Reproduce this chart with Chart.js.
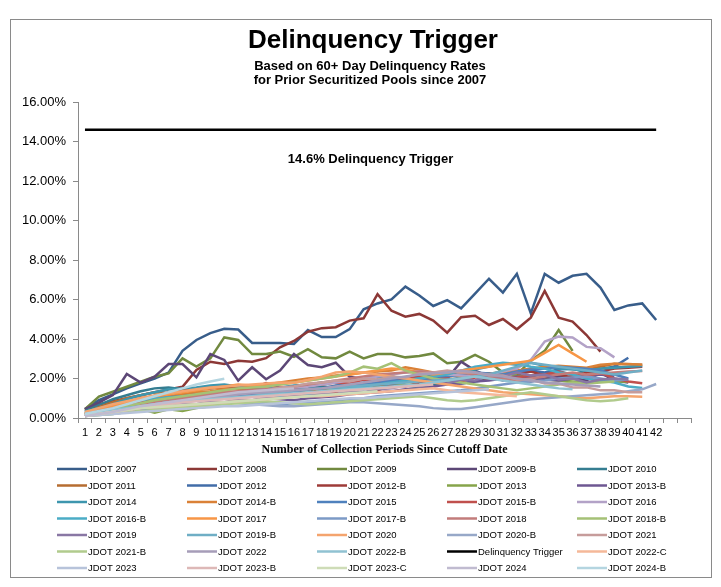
<!DOCTYPE html>
<html>
<head>
<meta charset="utf-8">
<script src="https://cdn.jsdelivr.net/npm/chart.js@4.4.1/dist/chart.umd.min.js"></script>
<style>
  body { margin: 0; background: #fff; }
  #wrap { width: 721px; height: 587px; }
</style>
</head>
<body>
<div id="wrap"><canvas id="delinquencyChart" width="721" height="587"></canvas></div>
<script>
// x axis: collection periods (last two slots are empty on the original axis)
const periods = ['1','2','3','4','5','6','7','8','9','10','11','12','13','14','15','16','17','18','19','20',
  '21','22','23','24','25','26','27','28','29','30','31','32','33','34','35','36','37','38','39','40','41','42','',''];

const yTicks = [0, 2, 4, 6, 8, 10, 12, 14, 16];

// 60+ day delinquency rates (%)
const jdot2007 = [0.45, 0.9, 1.2, 1.5, 1.75, 2.0, 2.3, 3.4, 3.95, 4.3, 4.52, 4.48, 3.8, 3.8, 3.8, 3.75, 4.45, 4.1, 4.1, 4.5, 5.5, 5.8, 6.0, 6.65, 6.2, 5.67, 5.97, 5.55, 6.3, 7.05, 6.35, 7.3, 5.3, 7.3, 6.85, 7.2, 7.3, 6.6, 5.47, 5.7, 5.8, 4.96];
const jdot2008 = [0.4, 0.7, 0.85, 1.0, 1.15, 1.3, 1.45, 1.58, 2.43, 2.85, 2.73, 2.9, 2.85, 3.03, 3.58, 3.9, 4.37, 4.55, 4.6, 4.93, 5.05, 6.27, 5.43, 5.13, 5.27, 4.93, 4.32, 5.1, 5.18, 4.71, 5.01, 4.49, 5.08, 6.43, 5.08, 4.88, 4.2, 3.36];
const jdot2009 = [0.45, 1.08, 1.33, 1.58, 1.84, 2.09, 2.26, 3.02, 2.6, 3.02, 4.08, 3.95, 3.24, 3.24, 3.36, 3.1, 3.49, 3.07, 3.02, 3.36, 3.02, 3.24, 3.24, 3.07, 3.14, 3.27, 2.77, 2.85, 3.19, 2.85, 2.3, 2.2, 2.9, 3.4, 4.45, 3.4];
const jdot2009B = [0.45, 0.78, 1.16, 2.23, 1.79, 2.09, 2.73, 2.73, 2.06, 3.24, 2.94, 1.89, 2.57, 1.96, 2.4, 3.24, 2.68, 2.57, 2.8, 2.09, 1.96, 2.23, 2.13, 1.89, 2.0, 1.95, 2.0, 2.85, 2.4, 2.1, 1.9, 1.95, 1.85, 2.0, 2.1, 2.0, 1.9, 2.3, 1.9, 1.8];
const jdot2010 = [0.35, 0.65, 0.95, 1.15, 1.35, 1.5, 1.55, 1.45, 1.4, 1.5, 1.55, 1.6, 1.5, 1.4, 1.35, 1.45, 1.5, 1.6, 1.55, 1.5, 1.45, 1.6, 1.7, 1.65, 1.55, 1.7, 1.8, 1.75, 1.85, 1.95, 2.05, 1.95, 2.1, 2.25, 2.35, 2.2, 2.4, 2.5, 2.6, 2.55];
const jdot2011 = [0.25, 0.55, 0.8, 1.0, 1.15, 1.3, 1.25, 1.4, 1.5, 1.6, 1.5, 1.45, 1.35, 1.3, 1.2, 1.3, 1.4, 1.45, 1.55, 1.6, 1.7, 1.65, 1.8, 1.9, 2.0, 2.1, 2.0, 1.95, 2.15, 2.25, 2.2, 2.35, 2.5, 2.55, 2.6, 2.5, 2.45, 2.6, 2.75, 2.72, 2.7];
const jdot2012 = [0.15, 0.3, 0.5, 0.65, 0.8, 0.9, 1.0, 1.1, 1.2, 1.25, 1.3, 1.2, 1.15, 1.1, 1.2, 1.3, 1.45, 1.5, 1.65, 1.7, 1.8, 1.95, 1.85, 2.0, 2.1, 1.95, 1.9, 2.05, 2.15, 2.2, 2.35, 2.25, 2.4, 2.3, 2.45, 2.5, 2.4, 2.3, 2.6, 3.05];
const jdot2012B = [0.2, 0.4, 0.65, 0.8, 1.0, 1.1, 1.3, 1.35, 1.45, 1.5, 1.6, 1.6, 1.5, 1.77, 1.55, 1.35, 1.2, 1.35, 1.3, 1.5, 1.55, 1.4, 1.65, 1.6, 1.8, 1.9, 1.75, 2.0, 2.1, 1.95, 2.25, 2.2, 2.35, 2.15, 2.2, 2.05, 2.3, 2.35, 2.5, 2.55, 2.6];
const jdot2013 = [0.2, 0.25, 0.3, 0.4, 0.45, 0.27, 0.44, 0.35, 0.5, 0.6, 0.75, 0.85, 0.9, 0.95, 1.05, 1.15, 1.2, 1.35, 1.4, 1.5, 1.6, 1.75, 1.8, 1.7, 1.65, 1.8, 1.9, 2.0, 2.1, 2.25, 2.3, 2.15, 2.05, 1.95, 1.9, 1.85, 1.8, 1.9, 1.85, 1.84];
const jdot2013B = [0.1, 0.25, 0.4, 0.55, 0.7, 0.8, 0.9, 0.95, 1.05, 1.1, 1.2, 1.25, 1.1, 1.0, 0.95, 0.9, 1.0, 1.05, 1.1, 1.2, 1.25, 1.3, 1.35, 1.45, 1.5, 1.6, 1.7, 1.75, 1.85, 1.9, 2.0, 2.1, 2.05, 1.95, 1.9, 2.0, 2.1, 2.2, 2.1];
const jdot2014 = [0.3, 0.5, 0.7, 0.95, 1.15, 1.3, 1.45, 1.5, 1.55, 1.65, 1.7, 1.6, 1.55, 1.5, 1.55, 1.65, 1.7, 1.8, 1.85, 1.9, 2.0, 2.1, 1.95, 1.9, 2.05, 2.15, 2.2, 2.35, 2.45, 2.6, 2.77, 2.7, 2.8, 2.65, 2.5, 2.45, 2.4, 2.5, 2.55, 2.6, 2.63];
const jdot2014B = [0.2, 0.4, 0.55, 0.75, 0.9, 1.0, 1.1, 1.2, 1.3, 1.35, 1.45, 1.5, 1.6, 1.7, 1.8, 1.9, 2.0, 2.05, 2.15, 2.2, 2.3, 2.35, 2.4, 2.57, 2.45, 2.3, 2.2, 2.1, 2.15, 2.25, 2.3, 2.4, 2.5, 2.6, 2.65, 2.6, 2.55, 2.7, 2.75, 2.73, 2.7];
const jdot2015 = [0.1, 0.2, 0.35, 0.5, 0.6, 0.7, 0.8, 0.85, 0.95, 1.0, 1.05, 1.1, 1.15, 1.25, 1.3, 1.35, 1.45, 1.5, 1.55, 1.65, 1.7, 1.8, 1.9, 2.0, 1.95, 2.05, 2.1, 2.2, 2.3, 2.25, 2.2, 2.35, 2.45, 2.5, 2.6, 2.55, 2.5, 2.4, 2.2, 2.0];
const jdot2015B = [0.15, 0.3, 0.5, 0.6, 0.8, 0.9, 1.05, 1.1, 1.2, 1.2, 1.35, 1.3, 1.45, 1.4, 1.55, 1.5, 1.65, 1.7, 1.8, 1.75, 1.95, 1.9, 2.05, 2.0, 2.15, 1.95, 2.0, 1.85, 2.05, 2.1, 2.0, 2.05, 2.15, 2.2, 2.35, 2.15, 2.1, 2.3, 2.0, 1.85, 1.76];
const jdot2016 = [0.1, 0.2, 0.3, 0.45, 0.6, 0.7, 0.8, 0.9, 1.0, 1.1, 1.2, 1.3, 1.35, 1.45, 1.5, 1.55, 1.6, 1.7, 1.8, 1.9, 2.0, 2.1, 2.2, 2.3, 2.35, 2.3, 2.2, 2.15, 2.1, 2.2, 2.35, 2.5, 2.94, 3.87, 4.12, 4.08, 3.6, 3.53, 3.07];
const jdot2016B = [0.3, 0.5, 0.65, 0.8, 0.9, 1.0, 1.05, 1.1, 1.15, 1.2, 1.25, 1.3, 1.3, 1.2, 1.1, 1.15, 1.2, 1.3, 1.4, 1.5, 1.6, 1.7, 1.8, 1.9, 2.0, 2.1, 2.2, 2.4, 2.6, 2.7, 2.8, 2.75, 2.6, 2.5, 2.3, 2.2, 2.0, 1.9, 1.8, 1.6, 1.52];
const jdot2017 = [0.2, 0.4, 0.6, 0.8, 1.0, 1.1, 1.2, 1.3, 1.4, 1.5, 1.6, 1.7, 1.65, 1.6, 1.7, 1.8, 1.9, 2.0, 2.1, 2.2, 2.3, 2.4, 2.5, 2.45, 2.3, 2.2, 2.3, 2.4, 2.5, 2.6, 2.7, 2.8, 2.9, 3.3, 3.7, 3.27, 2.85];
const jdot2017B = [0.1, 0.15, 0.2, 0.3, 0.4, 0.5, 0.55, 0.6, 0.65, 0.7, 0.75, 0.8, 0.8, 0.75, 0.7, 0.75, 0.8, 0.85, 0.9, 0.95, 1.0, 1.1, 1.15, 1.2, 1.25, 1.3, 1.35, 1.4, 1.5, 1.6, 1.7, 1.8, 1.85, 1.9, 2.0, 2.05, 2.1, 2.0, 1.9, 1.95];
const jdot2018 = [0.2, 0.35, 0.5, 0.6, 0.7, 0.8, 0.9, 1.0, 1.1, 1.2, 1.3, 1.35, 1.4, 1.45, 1.5, 1.6, 1.7, 1.8, 1.9, 2.0, 2.1, 2.2, 2.25, 2.3, 2.35, 2.3, 2.35, 2.3, 2.2, 2.1, 2.0, 1.9, 2.0, 2.1, 2.2, 2.3, 2.2, 2.25, 2.3, 2.35, 2.38];
const jdot2018B = [0.2, 0.3, 0.45, 0.6, 0.75, 0.9, 1.0, 1.1, 1.2, 1.3, 1.4, 1.5, 1.55, 1.6, 1.7, 1.8, 1.9, 2.0, 2.1, 2.3, 2.6, 2.5, 2.78, 2.4, 2.2, 2.0, 1.9, 1.8, 1.7, 1.6, 1.5, 1.4, 1.5, 1.6, 1.7, 1.8, 1.75, 1.8, 1.85];
const jdot2019 = [0.1, 0.25, 0.3, 0.45, 0.5, 0.65, 0.6, 0.75, 0.7, 0.85, 0.8, 0.95, 0.9, 1.05, 1.0, 1.15, 1.1, 1.25, 1.2, 1.35, 1.3, 1.45, 1.5, 1.65, 1.6, 1.8, 1.75, 1.95, 1.9, 2.15, 2.1, 2.3, 2.15, 2.2, 1.95, 2.0, 1.8, 1.95, 2.0, 1.95];
const jdot2019B = [0.2, 0.3, 0.4, 0.5, 0.6, 0.7, 0.8, 0.85, 0.9, 0.95, 1.0, 1.05, 1.1, 1.2, 1.3, 1.4, 1.45, 1.5, 1.55, 1.6, 1.65, 1.7, 1.75, 1.8, 1.85, 1.9, 1.95, 2.0, 2.1, 2.2, 2.4, 2.6, 2.8, 2.7, 2.6, 2.5, 2.4, 2.3, 2.2, 2.3, 2.4];
const jdot2020 = [0.3, 0.5, 0.7, 0.85, 1.0, 1.15, 1.25, 1.35, 1.45, 1.55, 1.6, 1.65, 1.7, 1.75, 1.8, 1.79, 1.92, 2.09, 2.3, 2.35, 2.3, 2.2, 2.1, 2.0, 1.9, 1.8, 1.7, 1.6, 1.5, 1.4, 1.3, 1.25, 1.2, 1.15, 1.1, 1.05, 1.0, 1.05, 1.1, 1.1, 1.08];
const jdot2020B = [0.1, 0.2, 0.3, 0.4, 0.5, 0.55, 0.6, 0.65, 0.7, 0.75, 0.8, 0.75, 0.7, 0.65, 0.6, 0.6, 0.65, 0.7, 0.75, 0.8, 0.8, 0.75, 0.7, 0.65, 0.6, 0.5, 0.45, 0.45, 0.55, 0.65, 0.75, 0.85, 0.95, 1.0, 1.05, 1.1, 1.15, 1.2, 1.25, 1.35, 1.45, 1.72];
const jdot2021 = [0.1, 0.2, 0.35, 0.4, 0.55, 0.6, 0.75, 0.8, 0.95, 1.0, 1.15, 1.2, 1.35, 1.4, 1.55, 1.6, 1.75, 1.8, 1.9, 1.85, 2.0, 1.95, 2.1, 2.05, 2.25, 2.3, 2.4, 2.3, 2.3, 2.15, 2.15, 1.95, 1.95, 1.75, 1.75, 1.55, 1.55, 1.4, 1.4, 1.3, 1.3];
const jdot2021B = [0.1, 0.15, 0.2, 0.3, 0.35, 0.4, 0.5, 0.55, 0.6, 0.65, 0.7, 0.75, 0.8, 0.85, 0.8, 0.75, 0.7, 0.75, 0.8, 0.85, 0.9, 0.95, 1.0, 1.05, 1.1, 1.0, 0.9, 0.85, 0.9, 1.0, 1.1, 1.2, 1.3, 1.2, 1.1, 1.0, 0.9, 0.85, 0.9, 1.0];
const jdot2022 = [0.1, 0.2, 0.3, 0.4, 0.5, 0.6, 0.7, 0.8, 0.9, 1.0, 1.1, 1.2, 1.25, 1.3, 1.35, 1.4, 1.45, 1.5, 1.6, 1.7, 1.8, 1.9, 2.0, 2.1, 2.2, 2.25, 2.3, 2.4, 2.3, 2.2, 2.1, 2.0, 1.9, 1.8, 1.75, 1.7, 1.65, 1.6];
const jdot2022B = [0.2, 0.3, 0.4, 0.5, 0.6, 0.7, 0.8, 0.85, 0.9, 0.95, 1.0, 1.05, 1.1, 1.15, 1.2, 1.25, 1.3, 1.35, 1.4, 1.45, 1.5, 1.55, 1.6, 1.65, 1.7, 1.8, 1.9, 2.0, 2.1, 2.0, 1.9, 1.8, 1.7, 1.6, 1.5, 1.45];
const trigger = [14.6, 14.6, 14.6, 14.6, 14.6, 14.6, 14.6, 14.6, 14.6, 14.6, 14.6, 14.6, 14.6, 14.6, 14.6, 14.6, 14.6, 14.6, 14.6, 14.6, 14.6,
  14.6, 14.6, 14.6, 14.6, 14.6, 14.6, 14.6, 14.6, 14.6, 14.6, 14.6, 14.6, 14.6, 14.6, 14.6, 14.6, 14.6, 14.6, 14.6, 14.6, 14.6];
const jdot2022C = [0.1, 0.2, 0.3, 0.4, 0.5, 0.55, 0.6, 0.65, 0.7, 0.75, 0.8, 0.85, 0.9, 0.95, 1.0, 1.05, 1.1, 1.1, 1.15, 1.2, 1.25, 1.3, 1.35, 1.4, 1.45, 1.5, 1.4, 1.3, 1.25, 1.2, 1.15, 1.1];
const jdot2023 = [0.1, 0.15, 0.2, 0.25, 0.3, 0.35, 0.4, 0.45, 0.5, 0.55, 0.6, 0.6, 0.65, 0.7, 0.75, 0.8, 0.85, 0.9, 0.95, 1.0, 1.0, 1.05, 1.1, 1.15, 1.2, 1.25, 1.3, 1.35, 1.4, 1.45];
const jdot2023B = [0.1, 0.2, 0.3, 0.4, 0.5, 0.6, 0.7, 0.8, 0.85, 0.9, 0.95, 1.0, 1.05, 1.1, 1.15, 1.2, 1.25, 1.3, 1.35, 1.4, 1.45, 1.5, 1.55, 1.6, 1.65, 1.7];
const jdot2023C = [0.1, 0.2, 0.3, 0.4, 0.5, 0.55, 0.6, 0.65, 0.7, 0.75, 0.8, 0.85, 0.9, 0.95, 1.0, 1.05, 1.1, 1.15, 1.2, 1.25, 1.3, 1.35];
const jdot2024 = [0.1, 0.2, 0.3, 0.45, 0.6, 0.7, 0.8, 0.9, 1.0, 1.1, 1.2, 1.3, 1.35, 1.4, 1.45, 1.5];
const jdot2024B = [0.2, 0.35, 0.5, 0.7, 0.9, 1.1, 1.3, 1.5, 1.7, 1.85, 1.99];

// legend order = dataset order
const seriesNames = ['JDOT 2007', 'JDOT 2008', 'JDOT 2009', 'JDOT 2009-B', 'JDOT 2010',
  'JDOT 2011', 'JDOT 2012', 'JDOT 2012-B', 'JDOT 2013', 'JDOT 2013-B',
  'JDOT 2014', 'JDOT 2014-B', 'JDOT 2015', 'JDOT 2015-B', 'JDOT 2016',
  'JDOT 2016-B', 'JDOT 2017', 'JDOT 2017-B', 'JDOT 2018', 'JDOT 2018-B',
  'JDOT 2019', 'JDOT 2019-B', 'JDOT 2020', 'JDOT 2020-B', 'JDOT 2021',
  'JDOT 2021-B', 'JDOT 2022', 'JDOT 2022-B', 'Delinquency Trigger', 'JDOT 2022-C',
  'JDOT 2023', 'JDOT 2023-B', 'JDOT 2023-C', 'JDOT 2024', 'JDOT 2024-B'];

const seriesValues = [jdot2007, jdot2008, jdot2009, jdot2009B, jdot2010,
  jdot2011, jdot2012, jdot2012B, jdot2013, jdot2013B,
  jdot2014, jdot2014B, jdot2015, jdot2015B, jdot2016,
  jdot2016B, jdot2017, jdot2017B, jdot2018, jdot2018B,
  jdot2019, jdot2019B, jdot2020, jdot2020B, jdot2021,
  jdot2021B, jdot2022, jdot2022B, trigger, jdot2022C,
  jdot2023, jdot2023B, jdot2023C, jdot2024, jdot2024B];

const seriesColors = ['#385D8A', '#8C3836', '#71893F', '#5C4776', '#357D91',
  '#B66D31', '#426DA8', '#9E3B38', '#86A44A', '#6E5792',
  '#3D96AE', '#DA8137', '#4F81BD', '#C0504D', '#B3A2C7',
  '#4BACC6', '#F79646', '#7C9AC6', '#C27C7B', '#A5C176',
  '#8977A4', '#6FAEC5', '#F4A46E', '#97A8C8', '#C69C9B',
  '#B1CB8D', '#A69DB8', '#90C2D2', '#000000', '#F5B899',
  '#B7C3DA', '#DDB8B7', '#CEDCB7', '#C0BBD0', '#B4D5E0'];

const sans = "'Liberation Sans', Arial, sans-serif";

// frame + titles behind the chart
const frameAndTitles = {
  id: 'frameAndTitles',
  beforeDraw(chart) {
    const ctx = chart.ctx;
    ctx.save();
    ctx.fillStyle = '#fff';
    ctx.fillRect(0, 0, chart.width, chart.height);
    ctx.strokeStyle = '#8a8a8a';
    ctx.lineWidth = 1;
    ctx.strokeRect(10.5, 19.5, 701, 558);
    ctx.fillStyle = '#000';
    ctx.textAlign = 'center';
    ctx.textBaseline = 'alphabetic';
    ctx.font = 'bold 26px ' + sans;
    ctx.fillText('Delinquency Trigger', 373, 48);
    ctx.font = 'bold 13px ' + sans;
    ctx.fillText('Based on 60+ Day Delinquency Rates', 370, 70);
    ctx.fillText('for Prior Securitized Pools since 2007', 370, 84);
    ctx.restore();
  },
  afterDraw(chart) {
    const ctx = chart.ctx;
    const xs = chart.scales.x, ys = chart.scales.y;
    ctx.save();
    // trigger annotation
    ctx.fillStyle = '#000';
    ctx.textAlign = 'center';
    ctx.textBaseline = 'middle';
    ctx.font = 'bold 13px ' + sans;
    ctx.fillText('14.6% Delinquency Trigger', (xs.getPixelForValue(0) + xs.getPixelForValue(trigger.length - 1)) / 2,
      ys.getPixelForValue(trigger[0]) + 30);
    // legend: 5 columns
    ctx.font = '9.5px ' + sans;
    ctx.textAlign = 'left';
    chart.data.datasets.forEach((ds, i) => {
      const col = i % 5, row = Math.floor(i / 5);
      const x = 57 + col * 130, y = 469 + row * 16.5;
      ctx.strokeStyle = ds.borderColor;
      ctx.lineWidth = 2.5;
      ctx.beginPath();
      ctx.moveTo(x, y);
      ctx.lineTo(x + 30, y);
      ctx.stroke();
      ctx.fillStyle = '#000';
      ctx.fillText(ds.label, x + 31, y + 0.5);
    });
    ctx.restore();
  }
};

const datasets = seriesNames.map((name, i) => ({
  label: name,
  data: seriesValues[i],
  borderColor: seriesColors[i],
  backgroundColor: seriesColors[i],
  borderWidth: name === 'Delinquency Trigger' ? 2.5 : 2.5,
  pointRadius: 0,
  tension: 0,
  fill: false,
  order: -i
}));

new Chart(document.getElementById('delinquencyChart'), {
  type: 'line',
  data: { labels: periods, datasets: datasets },
  options: {
    responsive: false,
    animation: false,
    devicePixelRatio: 1,
    layout: { padding: { left: 0, right: 30, top: 102, bottom: 130 } },
    plugins: {
      legend: { display: false },
      title: { display: false },
      tooltip: { enabled: false }
    },
    scales: {
      x: {
        type: 'category',
        offset: true,
        grid: { offset: true, drawOnChartArea: false, tickLength: 5, color: '#8a8a8a' },
        border: { color: '#8a8a8a' },
        ticks: { autoSkip: false, maxRotation: 0, minRotation: 0, padding: 3, color: '#000',
          font: { family: "'Liberation Sans Narrow', 'Arial Narrow', 'Liberation Sans', Arial, sans-serif", size: 11 } },
        title: {
          display: true,
          text: 'Number of Collection Periods Since Cutoff Date',
          color: '#000',
          padding: { top: 0, bottom: 0 },
          font: { family: "'Liberation Serif', 'Times New Roman', serif", size: 12, weight: 'bold' }
        },
        afterFit(scale) { scale.height = 39; }
      },
      y: {
        min: yTicks[0],
        max: yTicks[yTicks.length - 1],
        afterBuildTicks(scale) { scale.ticks = yTicks.map(v => ({ value: v })); },
        grid: { drawOnChartArea: false, tickLength: 5, color: '#8a8a8a' },
        border: { color: '#8a8a8a' },
        ticks: { padding: 7, color: '#000', font: { family: sans, size: 13 },
          callback: v => v.toFixed(2) + '%' },
        afterFit(scale) { scale.width = 78; }
      }
    }
  },
  plugins: [frameAndTitles]
});
</script>
</body>
</html>
